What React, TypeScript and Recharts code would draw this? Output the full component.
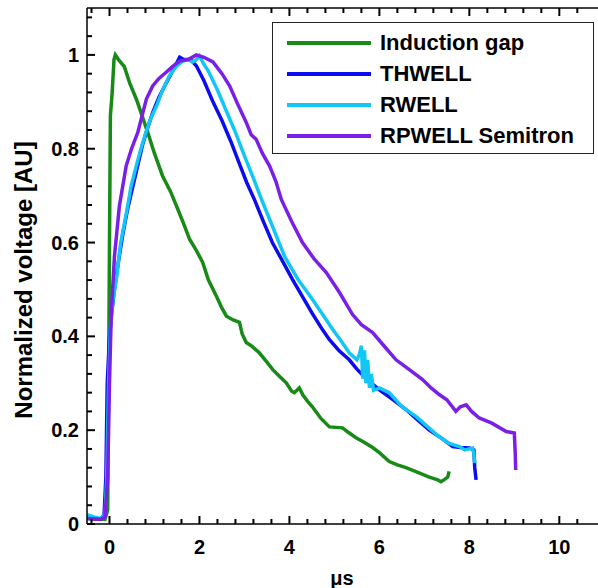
import { LineChart, Line, XAxis, YAxis, Legend } from 'recharts';

// time in µs, normalized amplitude
const inductionGap = [
  { x: -0.5, y: 0.012 }, { x: -0.3, y: 0.01 }, { x: -0.1, y: 0.01 }, { x: -0.04, y: 0.03 },
  { x: -0.02, y: 0.3 }, { x: 0.0, y: 0.6 }, { x: 0.02, y: 0.87 }, { x: 0.06, y: 0.92 },
  { x: 0.1, y: 0.99 }, { x: 0.13, y: 1.0 }, { x: 0.2, y: 0.99 }, { x: 0.33, y: 0.975 },
  { x: 0.45, y: 0.94 }, { x: 0.6, y: 0.905 }, { x: 0.85, y: 0.835 }, { x: 1.0, y: 0.79 },
  { x: 1.18, y: 0.742 }, { x: 1.35, y: 0.71 }, { x: 1.49, y: 0.678 }, { x: 1.65, y: 0.64 },
  { x: 1.78, y: 0.607 }, { x: 1.92, y: 0.585 }, { x: 2.07, y: 0.558 }, { x: 2.2, y: 0.52 },
  { x: 2.38, y: 0.485 }, { x: 2.5, y: 0.46 }, { x: 2.6, y: 0.443 }, { x: 2.75, y: 0.435 },
  { x: 2.89, y: 0.43 }, { x: 2.95, y: 0.405 }, { x: 3.04, y: 0.387 }, { x: 3.15, y: 0.38 },
  { x: 3.33, y: 0.365 }, { x: 3.5, y: 0.345 }, { x: 3.63, y: 0.329 }, { x: 3.8, y: 0.313 },
  { x: 3.93, y: 0.301 }, { x: 4.05, y: 0.283 }, { x: 4.11, y: 0.28 }, { x: 4.22, y: 0.29 },
  { x: 4.3, y: 0.275 }, { x: 4.4, y: 0.262 }, { x: 4.51, y: 0.25 }, { x: 4.7, y: 0.225 },
  { x: 4.89, y: 0.207 }, { x: 5.18, y: 0.205 }, { x: 5.3, y: 0.196 }, { x: 5.48, y: 0.184 },
  { x: 5.65, y: 0.175 }, { x: 5.85, y: 0.163 }, { x: 6.0, y: 0.152 }, { x: 6.22, y: 0.133 },
  { x: 6.4, y: 0.126 }, { x: 6.59, y: 0.12 }, { x: 6.8, y: 0.112 }, { x: 7.11, y: 0.1 },
  { x: 7.3, y: 0.094 }, { x: 7.37, y: 0.09 }, { x: 7.45, y: 0.095 }, { x: 7.52, y: 0.1 },
  { x: 7.55, y: 0.112 },
];

const thwell = [
  { x: -0.5, y: 0.015 }, { x: -0.35, y: 0.012 }, { x: -0.2, y: 0.01 }, { x: -0.12, y: 0.02 },
  { x: -0.08, y: 0.1 }, { x: -0.05, y: 0.3 }, { x: 0.0, y: 0.4 }, { x: 0.05, y: 0.45 },
  { x: 0.11, y: 0.5 }, { x: 0.2, y: 0.56 }, { x: 0.3, y: 0.62 }, { x: 0.4, y: 0.67 },
  { x: 0.52, y: 0.72 }, { x: 0.63, y: 0.765 }, { x: 0.74, y: 0.81 }, { x: 0.85, y: 0.845 },
  { x: 0.96, y: 0.877 }, { x: 1.1, y: 0.91 }, { x: 1.26, y: 0.94 }, { x: 1.4, y: 0.965 },
  { x: 1.56, y: 0.995 }, { x: 1.65, y: 0.99 }, { x: 1.8, y: 0.99 }, { x: 1.93, y: 0.977 },
  { x: 2.1, y: 0.945 }, { x: 2.3, y: 0.9 }, { x: 2.5, y: 0.86 }, { x: 2.7, y: 0.815 },
  { x: 2.9, y: 0.765 }, { x: 3.05, y: 0.728 }, { x: 3.22, y: 0.692 }, { x: 3.42, y: 0.645 },
  { x: 3.62, y: 0.6 }, { x: 3.85, y: 0.56 }, { x: 4.07, y: 0.521 }, { x: 4.3, y: 0.483 },
  { x: 4.5, y: 0.45 }, { x: 4.73, y: 0.415 }, { x: 4.89, y: 0.393 }, { x: 5.1, y: 0.37 },
  { x: 5.33, y: 0.35 }, { x: 5.5, y: 0.33 }, { x: 5.7, y: 0.31 }, { x: 6.0, y: 0.286 },
  { x: 6.3, y: 0.265 }, { x: 6.59, y: 0.244 }, { x: 6.85, y: 0.222 }, { x: 7.11, y: 0.2 },
  { x: 7.35, y: 0.185 }, { x: 7.63, y: 0.165 }, { x: 7.8, y: 0.163 }, { x: 8.0, y: 0.162 },
  { x: 8.1, y: 0.158 }, { x: 8.12, y: 0.12 }, { x: 8.15, y: 0.094 },
];

const rwell = [
  { x: -0.5, y: 0.02 }, { x: -0.35, y: 0.015 }, { x: -0.2, y: 0.012 }, { x: -0.1, y: 0.02 },
  { x: -0.06, y: 0.1 }, { x: -0.02, y: 0.3 }, { x: 0.02, y: 0.42 }, { x: 0.08, y: 0.48 },
  { x: 0.15, y: 0.52 }, { x: 0.25, y: 0.6 }, { x: 0.37, y: 0.66 }, { x: 0.48, y: 0.72 },
  { x: 0.6, y: 0.765 }, { x: 0.7, y: 0.8 }, { x: 0.81, y: 0.835 }, { x: 0.92, y: 0.865 },
  { x: 1.04, y: 0.89 }, { x: 1.18, y: 0.925 }, { x: 1.33, y: 0.955 }, { x: 1.48, y: 0.975 },
  { x: 1.63, y: 0.987 }, { x: 1.75, y: 0.99 }, { x: 1.85, y: 0.985 }, { x: 1.93, y: 0.99 },
  { x: 2.0, y: 0.998 }, { x: 2.1, y: 0.98 }, { x: 2.2, y: 0.965 }, { x: 2.4, y: 0.925 },
  { x: 2.6, y: 0.88 }, { x: 2.8, y: 0.835 }, { x: 3.0, y: 0.785 }, { x: 3.2, y: 0.737 },
  { x: 3.38, y: 0.692 }, { x: 3.6, y: 0.64 }, { x: 3.89, y: 0.571 }, { x: 4.2, y: 0.52 },
  { x: 4.51, y: 0.479 }, { x: 4.75, y: 0.445 }, { x: 4.96, y: 0.415 }, { x: 5.15, y: 0.39 },
  { x: 5.33, y: 0.365 }, { x: 5.5, y: 0.35 }, { x: 5.55, y: 0.36 }, { x: 5.6, y: 0.38 },
  { x: 5.63, y: 0.31 }, { x: 5.67, y: 0.37 }, { x: 5.7, y: 0.3 }, { x: 5.74, y: 0.35 },
  { x: 5.78, y: 0.29 }, { x: 5.82, y: 0.32 }, { x: 5.87, y: 0.285 }, { x: 6.0, y: 0.29 },
  { x: 6.22, y: 0.28 }, { x: 6.5, y: 0.25 }, { x: 6.82, y: 0.229 }, { x: 7.1, y: 0.205 },
  { x: 7.33, y: 0.186 }, { x: 7.55, y: 0.172 }, { x: 7.78, y: 0.165 }, { x: 7.9, y: 0.158 },
  { x: 8.07, y: 0.162 }, { x: 8.1, y: 0.15 }, { x: 8.12, y: 0.13 },
];

const rpwellSemitron = [
  { x: -0.5, y: 0.012 }, { x: -0.2, y: 0.01 }, { x: -0.1, y: 0.015 }, { x: -0.04, y: 0.1 },
  { x: 0.0, y: 0.3 }, { x: 0.04, y: 0.45 }, { x: 0.11, y: 0.57 }, { x: 0.22, y: 0.678 },
  { x: 0.37, y: 0.763 }, { x: 0.49, y: 0.8 }, { x: 0.63, y: 0.835 }, { x: 0.82, y: 0.906 },
  { x: 0.96, y: 0.934 }, { x: 1.1, y: 0.95 }, { x: 1.26, y: 0.963 }, { x: 1.4, y: 0.975 },
  { x: 1.56, y: 0.987 }, { x: 1.75, y: 0.99 }, { x: 1.93, y: 1.0 }, { x: 2.1, y: 0.995 },
  { x: 2.3, y: 0.985 }, { x: 2.5, y: 0.96 }, { x: 2.67, y: 0.934 }, { x: 2.85, y: 0.895 },
  { x: 3.04, y: 0.856 }, { x: 3.15, y: 0.83 }, { x: 3.26, y: 0.82 }, { x: 3.4, y: 0.79 },
  { x: 3.56, y: 0.763 }, { x: 3.7, y: 0.73 }, { x: 3.82, y: 0.692 }, { x: 4.05, y: 0.645 },
  { x: 4.29, y: 0.6 }, { x: 4.55, y: 0.565 }, { x: 4.82, y: 0.536 }, { x: 5.11, y: 0.494 },
  { x: 5.4, y: 0.447 }, { x: 5.6, y: 0.425 }, { x: 5.85, y: 0.408 }, { x: 6.1, y: 0.38 },
  { x: 6.37, y: 0.35 }, { x: 6.65, y: 0.33 }, { x: 6.96, y: 0.308 }, { x: 7.15, y: 0.29 },
  { x: 7.33, y: 0.276 }, { x: 7.5, y: 0.265 }, { x: 7.7, y: 0.24 }, { x: 7.8, y: 0.25 },
  { x: 7.93, y: 0.254 }, { x: 8.05, y: 0.24 }, { x: 8.22, y: 0.226 }, { x: 8.5, y: 0.215 },
  { x: 8.82, y: 0.197 }, { x: 9.0, y: 0.194 }, { x: 9.02, y: 0.15 }, { x: 9.03, y: 0.115 },
];

const seriesNames = ['Induction gap', 'THWELL', 'RWELL', 'RPWELL Semitron'];
const xMajorTicks = [0, 2, 4, 6, 8, 10];
const yMajorTicks = [0, 0.2, 0.4, 0.6, 0.8, 1];

// minor ticks: 5 divisions per major step
const xTicks = Array.from({ length: 28 }, (_, i) => Math.round((-0.4 + i * 0.4) * 100) / 100);
const yTicks = Array.from({ length: 28 }, (_, i) => Math.round(i * 0.04 * 100) / 100);

const FONT = "'Liberation Sans', Arial, sans-serif";

const isMajor = (list: number[], v: number) => list.some((t) => Math.abs(t - v) < 1e-6);

function BottomTick({ x, y, payload }: any) {
  const major = isMajor(xMajorTicks, payload.value);
  return (
    <g>
      <line x1={x} y1={y} x2={x} y2={y - (major ? 8 : 5)} stroke="#000" strokeWidth={2} />
      {major && (
        <text x={x} y={y + 30} textAnchor="middle" fontFamily={FONT} fontWeight="bold" fontSize={20} fill="#000">
          {payload.value}
        </text>
      )}
    </g>
  );
}

function TopTick({ x, y, payload }: any) {
  const major = isMajor(xMajorTicks, payload.value);
  return <line x1={x} y1={y} x2={x} y2={y + (major ? 8 : 5)} stroke="#000" strokeWidth={2} />;
}

function LeftTick({ x, y, payload }: any) {
  const major = isMajor(yMajorTicks, payload.value);
  return (
    <g>
      <line x1={x} y1={y} x2={x + (major ? 8 : 5)} y2={y} stroke="#000" strokeWidth={2} />
      {major && (
        <text x={x - 8} y={y + 7} textAnchor="end" fontFamily={FONT} fontWeight="bold" fontSize={20} fill="#000">
          {payload.value}
        </text>
      )}
    </g>
  );
}

function LegendBox({ payload }: any) {
  const items = seriesNames
    .map((name) => (payload || []).find((p: any) => p.value === name))
    .filter(Boolean);
  return (
    <div
      style={{
        border: '1.5px solid #222',
        background: '#fff',
        boxSizing: 'border-box',
        width: 322,
        height: 132,
        paddingTop: 4,
        fontFamily: FONT,
        fontWeight: 'bold',
        fontSize: 22,
        color: '#000',
      }}
    >
      {items.map((item: any) => (
        <div key={item.value} style={{ display: 'flex', alignItems: 'center', height: 31 }}>
          <div style={{ marginLeft: 14, width: 84, height: 4, background: item.color }} />
          <span style={{ marginLeft: 9, lineHeight: '31px' }}>{item.value}</span>
        </div>
      ))}
    </div>
  );
}

export default function App() {
  return (
    <div style={{ position: 'absolute', left: 0, top: 0, width: 598, height: 588, overflow: 'hidden', background: '#fff' }}>
      <LineChart width={598} height={588} margin={{ top: 7, right: 0, bottom: 0, left: 0 }}>
        <XAxis
          dataKey="x"
          type="number"
          domain={[-0.5, 10.86]}
          allowDataOverflow
          ticks={xTicks}
          interval={0}
          tick={<BottomTick />}
          tickLine={false}
          tickSize={0}
          tickMargin={0}
          height={64}
          axisLine={{ stroke: '#000', strokeWidth: 1.5 }}
          label={{
            content: () => (
              <text x={342} y={585} textAnchor="middle" fontFamily={FONT} fontWeight="bold" fontSize={20} fill="#000">
                μs
              </text>
            ),
          }}
        />
        <XAxis
          xAxisId="top"
          orientation="top"
          dataKey="x"
          type="number"
          domain={[-0.5, 10.86]}
          allowDataOverflow
          ticks={xTicks}
          interval={0}
          tick={<TopTick />}
          tickLine={false}
          tickSize={0}
          tickMargin={0}
          height={1}
          axisLine={{ stroke: '#000', strokeWidth: 1.5 }}
        />
        <YAxis
          dataKey="y"
          type="number"
          domain={[0, 1.1]}
          allowDataOverflow
          ticks={yTicks}
          interval={0}
          tick={<LeftTick />}
          tickLine={false}
          tickSize={0}
          tickMargin={0}
          width={87}
          axisLine={{ stroke: '#000', strokeWidth: 1.5 }}
          label={{
            content: () => (
              <text
                transform="translate(32, 280) rotate(-90)"
                textAnchor="middle"
                fontFamily={FONT}
                fontWeight="bold"
                fontSize={24}
                fill="#000"
              >
                Normalized voltage [AU]
              </text>
            ),
          }}
        />
        <Legend
          layout="vertical"
          align="center"
          verticalAlign="middle"
          content={<LegendBox />}
          wrapperStyle={{ position: 'absolute', left: 272, top: 22, width: 322, height: 132 }}
        />
        <Line data={inductionGap} dataKey="y" name="Induction gap" stroke="#178a17" strokeWidth={3.5} dot={false} isAnimationActive={false} />
        <Line data={thwell} dataKey="y" name="THWELL" stroke="#0c0cee" strokeWidth={3.5} dot={false} isAnimationActive={false} />
        <Line data={rwell} dataKey="y" name="RWELL" stroke="#12c6f6" strokeWidth={3.5} dot={false} isAnimationActive={false} />
        <Line data={rpwellSemitron} dataKey="y" name="RPWELL Semitron" stroke="#7a20e6" strokeWidth={3.5} dot={false} isAnimationActive={false} />
      </LineChart>
    </div>
  );
}
